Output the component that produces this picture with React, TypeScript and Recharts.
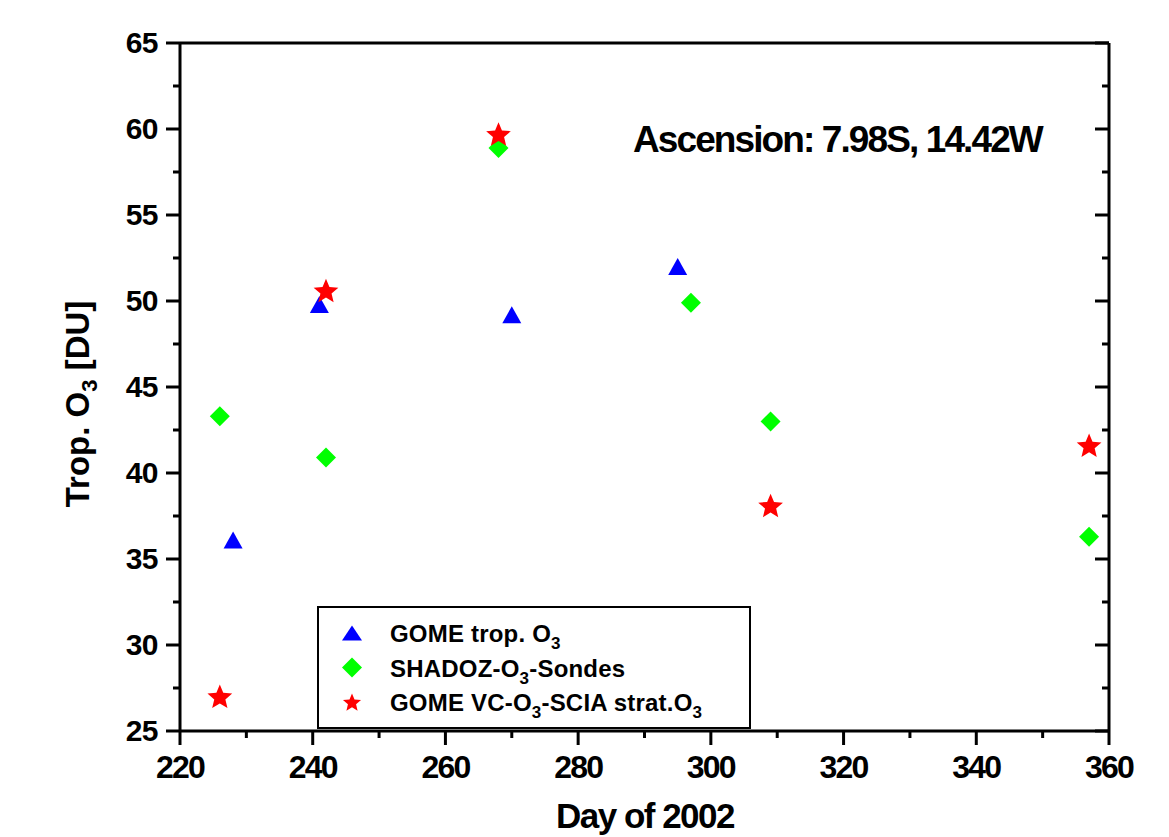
import { ScatterChart, Scatter, XAxis, YAxis, Customized } from 'recharts';

// axis ticks (major every 20 days / 5 DU, minor in between)
const xTicks = [220, 230, 240, 250, 260, 270, 280, 290, 300, 310, 320, 330, 340, 350, 360];
const yTicks = [25, 27.5, 30, 32.5, 35, 37.5, 40, 42.5, 45, 47.5, 50, 52.5, 55, 57.5, 60, 62.5, 65];

// GOME trop. O3
const gomeTropDay = [228, 241, 270, 295];
const gomeTropO3 = [36.1, 49.8, 49.2, 52.0];

// SHADOZ sondes
const shadozDay = [226, 242, 268, 297, 309, 357];
const shadozO3 = [43.3, 40.9, 58.9, 49.9, 43.0, 36.3];

// GOME VC - SCIA strat
const gomeVcDay = [226, 242, 268, 309, 357];
const gomeVcO3 = [27.0, 50.6, 59.7, 38.1, 41.6];

const stationLabel = 'Ascension: 7.98S, 14.42W';

const FONT = '"Liberation Sans", Arial, Helvetica, sans-serif';
const BLUE = '#0000ff';
const GREEN = '#00ff00';
const RED = '#ff0000';

const toPoints = (days: number[], vals: number[]) =>
  days.map((d, i) => ({ day: d, o3: vals[i] }));

const tropData = toPoints(gomeTropDay, gomeTropO3);
const shadozData = toPoints(shadozDay, shadozO3);
const vcData = toPoints(gomeVcDay, gomeVcO3);

const isMajorX = (v: number) => v % 20 === 0;
const isMajorY = (v: number) => v % 5 === 0;

function triangle(cx: number, cy: number, w: number, h: number, color: string) {
  return (
    <polygon
      points={`${cx},${cy - h / 2} ${cx + w / 2},${cy + h / 2} ${cx - w / 2},${cy + h / 2}`}
      fill={color}
    />
  );
}

function diamond(cx: number, cy: number, r: number, color: string) {
  return (
    <polygon
      points={`${cx},${cy - r} ${cx + r},${cy} ${cx},${cy + r} ${cx - r},${cy}`}
      fill={color}
    />
  );
}

function star(cx: number, cy: number, R: number, color: string) {
  const pts: string[] = [];
  const r = R * 0.45;
  for (let i = 0; i < 10; i++) {
    const a = -Math.PI / 2 + (i * Math.PI) / 5;
    const rr = i % 2 === 0 ? R : r;
    pts.push(`${cx + rr * Math.cos(a)},${cy + rr * Math.sin(a)}`);
  }
  return <polygon points={pts.join(' ')} fill={color} />;
}

const TriShape = (p: any) => triangle(p.cx, p.cy, 19, 17, BLUE);
const DiaShape = (p: any) => diamond(p.cx, p.cy, 10, GREEN);
const StarShape = (p: any) => star(p.cx, p.cy + 1, 13, RED);

const BottomTick = (p: any) => {
  const { x, y, payload } = p;
  const major = isMajorX(payload.value);
  return (
    <g>
      <line x1={x} x2={x} y1={y} y2={y + (major ? 14 : 7)} stroke="#000" strokeWidth={3} />
      {major && (
        <text
          x={x}
          y={y + 47}
          textAnchor="middle"
          fontFamily={FONT}
          fontWeight="bold"
          fontSize={32}
          letterSpacing={-1.8}
          fill="#000"
        >
          {payload.value}
        </text>
      )}
    </g>
  );
};

const TopTick = (p: any) => {
  const { x, y, payload } = p;
  const major = isMajorX(payload.value);
  return <line x1={x} x2={x} y1={y} y2={y + (major ? 14 : 7)} stroke="#000" strokeWidth={3} />;
};

const LeftTick = (p: any) => {
  const { x, y, payload } = p;
  const major = isMajorY(payload.value);
  return (
    <g>
      <line x1={x} x2={x - (major ? 14 : 7)} y1={y} y2={y} stroke="#000" strokeWidth={3} />
      {major && (
        <text
          x={x - 22}
          y={y + 10}
          textAnchor="end"
          fontFamily={FONT}
          fontWeight="bold"
          fontSize={30}
          letterSpacing={-0.5}
          fill="#000"
        >
          {payload.value}
        </text>
      )}
    </g>
  );
};

const RightTick = (p: any) => {
  const { x, y, payload } = p;
  const major = isMajorY(payload.value);
  return <line x1={x} x2={x - (major ? 14 : 7)} y1={y} y2={y} stroke="#000" strokeWidth={3} />;
};

const legendItems = [
  { name: 'GOME trop. O', sub: '3', rest: '', kind: 'tri' },
  { name: 'SHADOZ-O', sub: '3', rest: '-Sondes', kind: 'dia' },
  { name: 'GOME VC-O', sub: '3', rest: '-SCIA strat.O', sub2: '3', kind: 'star' },
];

const Decorations = () => {
  const textProps = { fontFamily: FONT, fontWeight: 'bold' as const, fill: '#000' };
  return (
    <g>
      {/* station annotation */}
      <text x={633} y={152} fontSize={37} letterSpacing={-1.9} {...textProps}>
        {stationLabel}
      </text>

      {/* legend box */}
      <rect x={318} y={607} width={432} height={121} fill="#fff" stroke="#000" strokeWidth={2} />
      {legendItems.map((it, i) => {
        const cy = 633 + i * 34.5;
        const marker =
          it.kind === 'tri'
            ? triangle(352, cy, 20, 15, BLUE)
            : it.kind === 'dia'
            ? diamond(352, cy, 10, GREEN)
            : star(352, cy + 1, 9.5, RED);
        return (
          <g key={it.name}>
            {marker}
            <text x={390} y={cy + 9} fontSize={24} letterSpacing={0.2} {...textProps}>
              <tspan>{it.name}</tspan>
              <tspan dy={7} fontSize={17}>
                {it.sub}
              </tspan>
              {it.rest && <tspan dy={-7}>{it.rest}</tspan>}
              {it.sub2 && (
                <tspan dy={7} fontSize={17}>
                  {it.sub2}
                </tspan>
              )}
            </text>
          </g>
        );
      })}

      {/* x axis title */}
      <text x={645} y={828} textAnchor="middle" fontSize={35} letterSpacing={-1.5} {...textProps}>
        Day of 2002
      </text>

      {/* y axis title */}
      <text
        transform="translate(89,404) rotate(-90)"
        textAnchor="middle"
        fontSize={33}
        {...textProps}
      >
        <tspan>Trop. O</tspan>
        <tspan dy={8} fontSize={22}>
          3
        </tspan>
        <tspan dy={-8}> [DU]</tspan>
      </text>
    </g>
  );
};

export default function App() {
  const axisLine = { stroke: '#000', strokeWidth: 3 };
  return (
    <div style={{ position: 'absolute', left: 0, top: 0, background: '#fff' }}>
      <ScatterChart
        width={1169}
        height={837}
        margin={{ top: 39, right: 50, bottom: 46, left: 80 }}
      >
        <XAxis
          dataKey="day"
          type="number"
          domain={[220, 360]}
          ticks={xTicks}
          interval={0}
          allowDataOverflow
          height={60}
          axisLine={axisLine}
          tickLine={false}
          tickSize={0}
          tickMargin={0}
          tick={BottomTick}
        />
        <XAxis
          xAxisId="top"
          orientation="top"
          type="number"
          domain={[220, 360]}
          ticks={xTicks}
          interval={0}
          allowDataOverflow
          height={4}
          axisLine={axisLine}
          tickLine={false}
          tickSize={0}
          tickMargin={0}
          tick={TopTick}
        />
        <YAxis
          dataKey="o3"
          type="number"
          domain={[25, 65]}
          ticks={yTicks}
          interval={0}
          allowDataOverflow
          width={100}
          axisLine={axisLine}
          tickLine={false}
          tickSize={0}
          tickMargin={0}
          tick={LeftTick}
        />
        <YAxis
          yAxisId="right"
          orientation="right"
          type="number"
          domain={[25, 65]}
          ticks={yTicks}
          interval={0}
          allowDataOverflow
          width={10}
          axisLine={axisLine}
          tickLine={false}
          tickSize={0}
          tickMargin={0}
          tick={RightTick}
        />
        <Scatter data={tropData} shape={TriShape} isAnimationActive={false} />
        <Scatter data={shadozData} shape={DiaShape} isAnimationActive={false} />
        <Scatter data={vcData} shape={StarShape} isAnimationActive={false} />
        <Customized component={Decorations} />
      </ScatterChart>
    </div>
  );
}
